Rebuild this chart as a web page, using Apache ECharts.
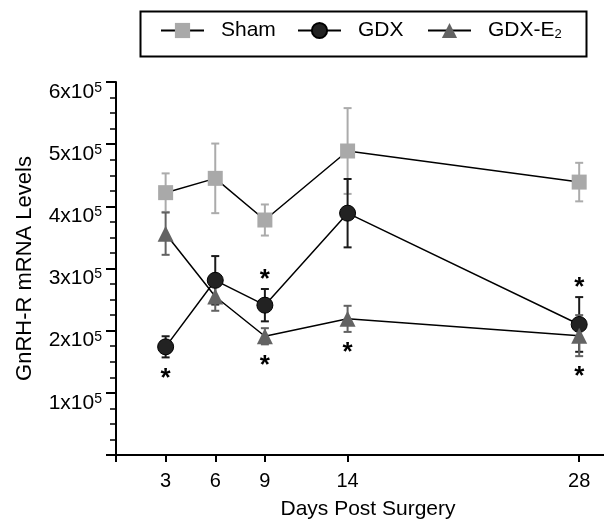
<!DOCTYPE html>
<html>
<head>
<meta charset="utf-8">
<script src="https://cdn.jsdelivr.net/npm/echarts@6/dist/echarts.min.js"></script>
<style>
  html, body { margin: 0; padding: 0; background: #fff; }
  #chart { width: 604px; height: 524px; }
</style>
</head>
<body>
<div id="chart"></div>
<script>
// Sampling days after surgery
const days = [3, 6, 9, 14, 28];
const xTickValues = [0, 3, 6, 9, 14, 28];
const xLabelValues = [3, 6, 9, 14, 28];

// GnRH-R mRNA levels (mean and SEM)
const shamMean = [422000, 445000, 378000, 489000, 439000];
const shamErr  = [31000, 56000, 25000, 69000, 31000];
const gdxMean  = [174000, 281000, 241000, 389000, 210000];
const gdxErr   = [17000, 39000, 26000, 55000, 44000];
const e2Mean   = [356000, 255000, 191000, 219000, 192000];
const e2Err    = [34000, 23000, 13000, 21000, 33000];

// Significance vs Sham: 1 = star above the upper whisker, -1 = below the lower whisker
const gdxSig = [-1, 0, 1, 0, 1];
const e2Sig  = [0, 0, -1, -1, -1];

const FONT = '"Liberation Sans", Arial, Helvetica, sans-serif';

function errorBars(name, mean, err, sig, color, z) {
  return {
    type: 'custom',
    name: name + ' SEM',
    silent: true,
    z: z,
    data: days.map((d, i) => [d, mean[i], err[i], sig[i]]),
    encode: { x: 0, y: 1 },
    renderItem: function (params, api) {
      const x = api.value(0), m = api.value(1), e = api.value(2), s = api.value(3);
      const top = api.coord([x, m + e]);
      const bot = api.coord([x, m - e]);
      const cap = 4;
      const st = { stroke: color, lineWidth: 2 };
      const children = [
        { type: 'line', shape: { x1: top[0], y1: top[1], x2: bot[0], y2: bot[1] }, style: st },
        { type: 'line', shape: { x1: top[0] - cap, y1: top[1], x2: top[0] + cap, y2: top[1] }, style: st },
        { type: 'line', shape: { x1: bot[0] - cap, y1: bot[1], x2: bot[0] + cap, y2: bot[1] }, style: st }
      ];
      if (s) {
        children.push({
          type: 'text',
          z2: 50,
          x: top[0],
          y: s > 0 ? top[1] - 9 : bot[1] + 21,
          style: {
            text: '*', fill: '#000', fontSize: 26, fontWeight: 'bold', fontFamily: FONT,
            align: 'center', verticalAlign: 'middle'
          }
        });
      }
      return { type: 'group', children: children };
    }
  };
}

function meanLine(name, mean, symbol, size, fill, border, z) {
  return {
    type: 'line',
    name: name,
    z: z,
    data: days.map((d, i) => [d, mean[i]]),
    symbol: symbol,
    symbolSize: size,
    showAllSymbol: true,
    itemStyle: { color: fill, borderColor: border, borderWidth: border ? 1 : 0, opacity: 1 },
    lineStyle: { color: '#000', width: 1.5 },
    emphasis: { disabled: true }
  };
}

const legendBase = {
  orient: 'horizontal',
  top: 20,
  padding: 0,
  itemWidth: 43,
  itemHeight: 19,
  selectedMode: false,
  textStyle: {
    fontSize: 21, color: '#000', fontFamily: FONT, lineHeight: 21, padding: [0, 0, 0, 12],
    rich: { sub: { fontSize: 13, lineHeight: 9, verticalAlign: 'bottom', fontFamily: FONT, color: '#000' } }
  },
  formatter: function (n) { return n === 'GDX-E2' ? 'GDX-E{sub|2}' : n; }
};

const chart = echarts.init(document.getElementById('chart'), null, { renderer: 'canvas' });
chart.setOption({
  animation: false,
  backgroundColor: '#fff',
  textStyle: { fontFamily: FONT },
  grid: { left: 116, right: 0, top: 82, bottom: 69, containLabel: false, outerBoundsMode: 'none' },
  legend: [
    Object.assign({}, legendBase, { data: ['Sham'], left: 160 }),
    Object.assign({}, legendBase, { data: ['GDX'], left: 297 }),
    Object.assign({}, legendBase, { data: ['GDX-E2'], left: 427 })
  ],
  graphic: [{
    type: 'rect', left: 138, top: 9, z: 100, silent: true,
    shape: { width: 446, height: 45 },
    style: { fill: null, stroke: '#000', lineWidth: 2 }
  }],
  xAxis: {
    type: 'value', min: 0, max: 29.5,
    axisLine: { show: true, lineStyle: { color: '#000', width: 2 } },
    axisTick: { show: true, customValues: xTickValues, length: 7, lineStyle: { color: '#000', width: 2 } },
    axisLabel: { customValues: xLabelValues, fontSize: 20, color: '#000', margin: 16, fontFamily: FONT },
    splitLine: { show: false },
    name: 'Days Post Surgery', nameLocation: 'middle', nameGap: 44,
    nameTextStyle: { fontSize: 21, color: '#000', fontFamily: FONT, padding: [0, 0, 0, 16] }
  },
  yAxis: {
    type: 'value', min: 0, max: 600000, interval: 100000,
    axisLine: { show: true, lineStyle: { color: '#000', width: 2 } },
    axisTick: { show: true, length: 10, lineStyle: { color: '#000', width: 2 } },
    minorTick: { show: true, splitNumber: 4, length: 6, lineStyle: { color: '#000', width: 1.5 } },
    splitLine: { show: false },
    minorSplitLine: { show: false },
    axisLabel: {
      margin: 14,
      padding: [20, 0, 0, 0],
      formatter: function (v) { return v === 0 ? '' : '{b|' + (v / 100000) + 'x10}{sup|5}'; },
      rich: {
        b: { fontSize: 21, lineHeight: 22, color: '#000', fontFamily: FONT },
        sup: { fontSize: 14, lineHeight: 10, verticalAlign: 'top', color: '#000', fontFamily: FONT }
      }
    },
    name: 'GnRH-R mRNA Levels', nameLocation: 'middle', nameRotate: 90, nameGap: 80,
    nameTextStyle: { fontSize: 22, color: '#000', fontFamily: FONT }
  },
  series: [
    errorBars('Sham', shamMean, shamErr, [0, 0, 0, 0, 0], '#ababab', 1),
    errorBars('GDX', gdxMean, gdxErr, gdxSig, '#1a1a1a', 2),
    errorBars('GDX-E2', e2Mean, e2Err, e2Sig, '#626262', 3),
    meanLine('Sham', shamMean, 'rect', 15, '#a9a9a9', null, 4),
    meanLine('GDX', gdxMean, 'circle', 16, '#222', '#000', 5),
    meanLine('GDX-E2', e2Mean, 'triangle', 16, '#636363', null, 6)
  ]
});
</script>
</body>
</html>
